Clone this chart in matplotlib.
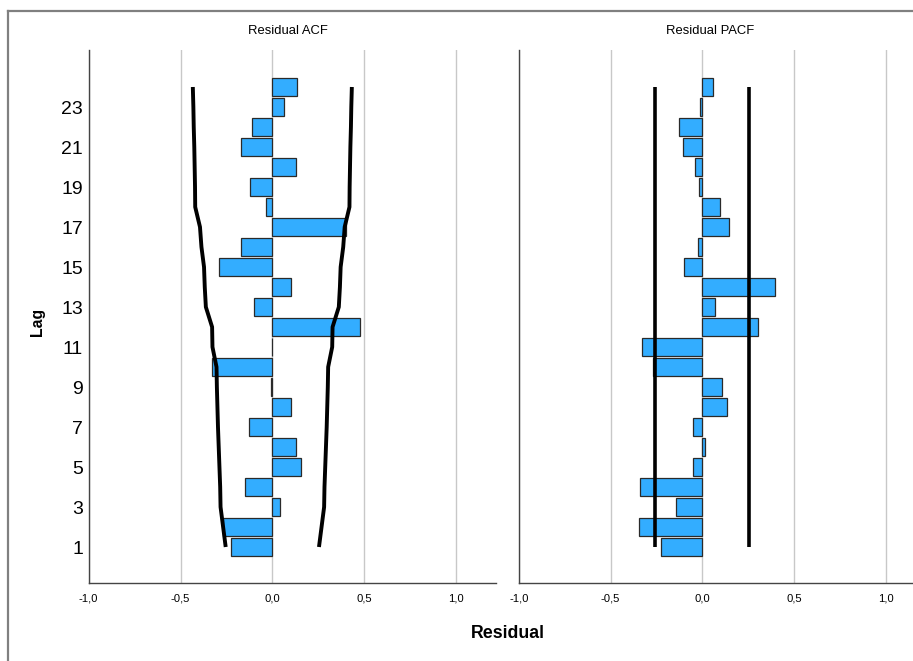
import matplotlib
matplotlib.use("Agg")
import matplotlib.pyplot as plt
from matplotlib import font_manager
from matplotlib.lines import Line2D
import numpy as np

lags = list(range(1, 25))
acf_values = [-0.227, -0.267, 0.042, -0.149, 0.155, 0.128, -0.129, 0.102, -0.007, -0.326,
              -0.002, 0.476, -0.100, 0.100, -0.293, -0.171, 0.403, -0.034, -0.122, 0.130,
              -0.171, -0.111, 0.066, 0.137]
acf_upper = [0.254, 0.268, 0.282, 0.284, 0.288, 0.292, 0.296, 0.299, 0.302, 0.304,
             0.326, 0.328, 0.362, 0.368, 0.372, 0.386, 0.394, 0.420, 0.421, 0.423,
             0.425, 0.428, 0.430, 0.433]
pacf_values = [-0.227, -0.347, -0.143, -0.341, -0.053, 0.013, -0.051, 0.134, 0.107, -0.271,
               -0.327, 0.303, 0.067, 0.396, -0.100, -0.024, 0.143, 0.095, -0.016, -0.040,
               -0.107, -0.125, -0.011, 0.057]
pacf_limit = 0.256
ytick_lags = [1, 3, 5, 7, 9, 11, 13, 15, 17, 19, 21, 23]
xticks = [-1.0, -0.5, 0.0, 0.5, 1.0]
xtick_labels = ["-1,0", "-0,5", "0,0", "0,5", "1,0"]
titles = ["Residual ACF", "Residual PACF"]

available = {f.name for f in font_manager.fontManager.ttflist}
narrow = "Liberation Sans Narrow" in available
fam = ["Liberation Sans Narrow", "DejaVu Sans"] if narrow else ["Liberation Sans", "DejaVu Sans"]
k = 1.0 if narrow else 0.85
plt.rcParams["font.family"] = fam

W, H = 913, 661
fig = plt.figure(figsize=(W / 100, H / 100), dpi=100)

bar_color = "#33ADFF"
edge_color = "#2a2a2a"
spine_color = "#444444"
grid_color = "#c8c8c8"

def fx(px):
    return px / W

def fy(py):
    return 1 - py / H

ax_bottom = fy(583.3)
ax_h = (583.3 - 49.5) / H
ylim = (-0.815, 25.875)

axL = fig.add_axes([fx(88.7), ax_bottom, (496 - 88.7) / W, ax_h])
axR = fig.add_axes([fx(519), ax_bottom, (913 - 519) / W, ax_h])

for ax, vals, xmax in [(axL, acf_values, 1.218), (axR, pacf_values, 1.149)]:
    ax.set_xlim(-1.0, xmax)
    ax.set_ylim(*ylim)
    for xt in xticks:
        ax.axvline(xt, color=grid_color, lw=1.0, zorder=0)
    ax.barh(lags, vals, height=0.9, color=bar_color, edgecolor=edge_color, lw=0.9, zorder=2)
    for s in ["top", "right"]:
        ax.spines[s].set_visible(False)
    for s in ["left", "bottom"]:
        ax.spines[s].set_color(spine_color)
        ax.spines[s].set_linewidth(1.0)
    ax.set_xticks(xticks)
    ax.set_xticklabels(xtick_labels, fontsize=9.5 * k)
    ax.tick_params(axis="x", length=0, pad=7)
    ax.tick_params(axis="y", length=0, pad=4)

axL.set_yticks(ytick_lags)
axL.set_yticklabels([str(v) for v in ytick_lags], fontsize=14 if not narrow else 15.5)
axR.set_yticks([])

acf_lower = [-v for v in acf_upper]
axL.plot(acf_upper, lags, color="black", lw=2.8, zorder=3, solid_capstyle="butt")
axL.plot(acf_lower, lags, color="black", lw=2.8, zorder=3, solid_capstyle="butt")
axR.plot([pacf_limit, pacf_limit], [lags[0], lags[-1]], color="black", lw=2.6, zorder=3, solid_capstyle="butt")
axR.plot([-pacf_limit, -pacf_limit], [lags[0], lags[-1]], color="black", lw=2.6, zorder=3, solid_capstyle="butt")

fig.text(fx(288), fy(31), titles[0], fontsize=11 * k, ha="center", va="center")
fig.text(fx(710), fy(31), titles[1], fontsize=11 * k, ha="center", va="center")
fig.text(fx(508), fy(634), "Residual", fontsize=15 * k, fontweight="bold", ha="center", va="center")
fig.text(fx(37), fy(322), "Lag", fontsize=13.5 * k, fontweight="bold", ha="center", va="center", rotation=90)

fig.add_artist(Line2D([fx(8), 1.0], [fy(11), fy(11)], color="#808080", lw=1.6, transform=fig.transFigure))
fig.add_artist(Line2D([fx(8), fx(8)], [fy(11), 0.0], color="#808080", lw=1.6, transform=fig.transFigure))

fig.savefig("out.png", dpi=100)
